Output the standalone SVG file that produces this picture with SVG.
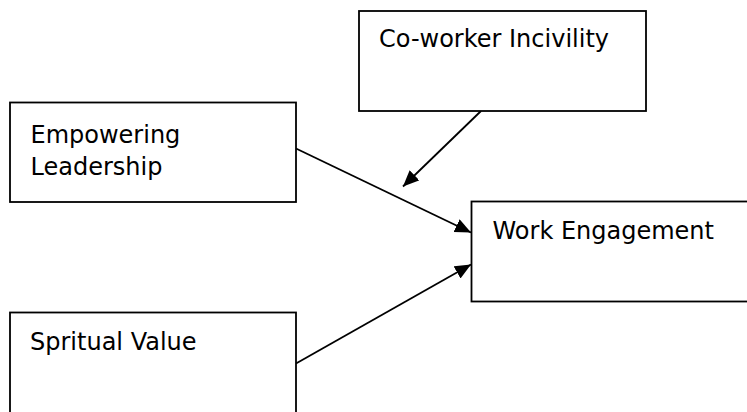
<svg xmlns="http://www.w3.org/2000/svg" width="747" height="412" viewBox="0 0 747 412">
<style>
.box{fill:#fff;stroke:#000;stroke-width:1.8}
.lbl{font-family:"DejaVu Sans","Liberation Sans",sans-serif;font-size:24px;fill:#000}
.conn{stroke:#000;stroke-width:1.8;fill:none}
</style>
<defs>
<marker id="ah" markerUnits="userSpaceOnUse" markerWidth="18" markerHeight="15" refX="16" refY="7" orient="auto">
<path d="M0,0 L16,7 L0,14 z" fill="#000"/>
</marker>
</defs>
<rect width="747" height="412" fill="#fff"/>
<g id="connectors">
<line class="conn" x1="296" y1="148.5" x2="471" y2="232.5" marker-end="url(#ah)"/>
<line class="conn" x1="296" y1="363.5" x2="471" y2="264.5" marker-end="url(#ah)"/>
<line class="conn" x1="481" y1="111" x2="403" y2="186.5" marker-end="url(#ah)"/>
</g>
<g id="node-empowering">
<rect class="box" x="10" y="102.5" width="286" height="99.5"/>
<text class="lbl" x="30.5" y="143">Empowering</text>
<text class="lbl" x="30.5" y="175">Leadership</text>
</g>
<g id="node-coworker">
<rect class="box" x="359" y="11" width="287" height="100"/>
<text class="lbl" x="379" y="47">Co-worker Incivility</text>
</g>
<g id="node-work">
<rect class="box" x="471.5" y="201.5" width="290" height="100"/>
<text class="lbl" x="492.5" y="239">Work Engagement</text>
</g>
<g id="node-spritual">
<rect class="box" x="10" y="312.5" width="286" height="120"/>
<text class="lbl" x="30" y="350">Spritual Value</text>
</g>
</svg>
